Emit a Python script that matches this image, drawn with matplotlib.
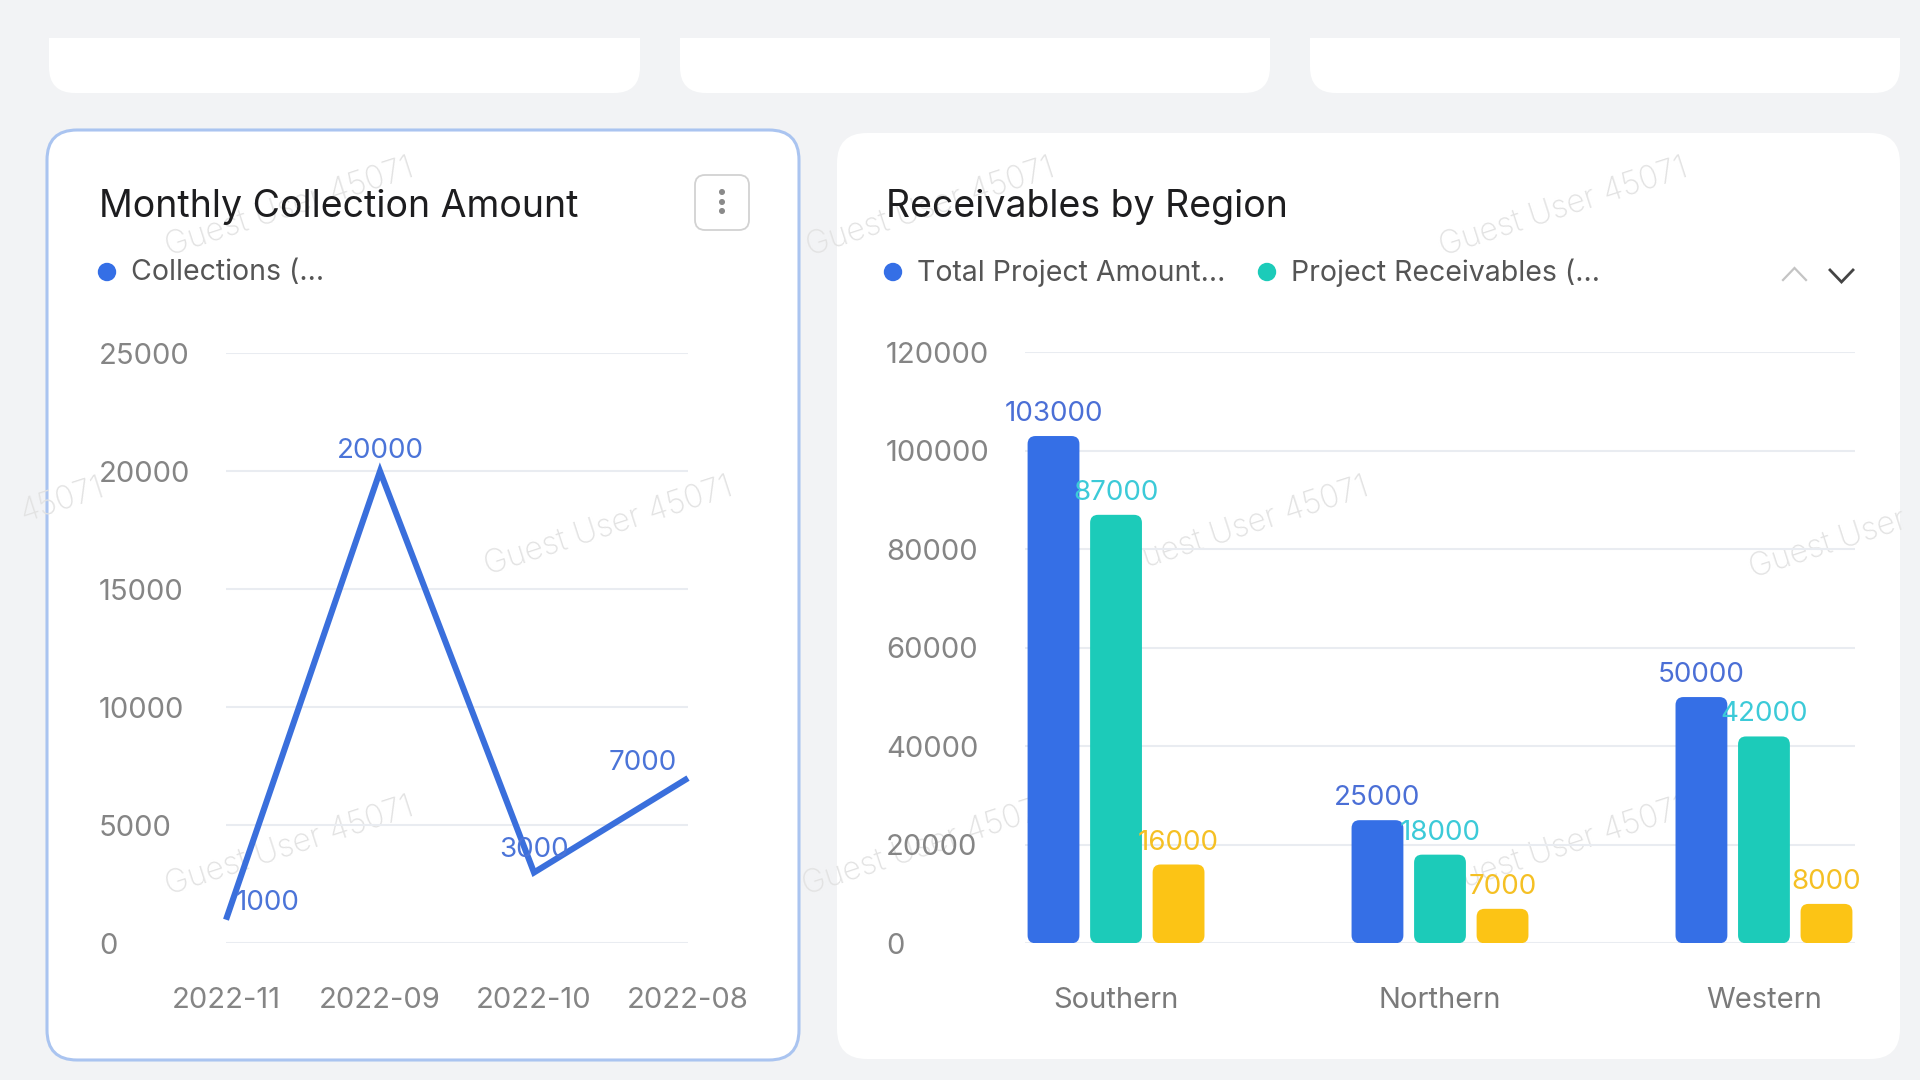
import matplotlib
matplotlib.use("Agg")
import matplotlib.pyplot as plt
from matplotlib.patches import FancyBboxPatch, Rectangle, Circle

plt.rcParams['font.family'] = ['Inter', 'DejaVu Sans']

# ---------------- data ----------------
months = ["2022-11", "2022-09", "2022-10", "2022-08"]
collections = [1000, 20000, 3000, 7000]
line_yticks = [0, 5000, 10000, 15000, 20000, 25000]

regions = ["Southern", "Northern", "Western"]
total_project_amount = [103000, 25000, 50000]
project_receivables = [87000, 18000, 42000]
collected_amount = [16000, 7000, 8000]
bar_yticks = [0, 20000, 40000, 60000, 80000, 100000, 120000]

# label offsets (pixels) for the line labels
line_label_offsets = [(42, 17), (0, 20.5), (0, 22.5), (-45, 15.5)]

W, H = 1920, 1080
BG = "#f2f3f5"
BLUE = "#356fe6"
TEAL = "#1ccbb9"
YELLOW = "#fcc415"
TICK_C = "#858585"

fig = plt.figure(figsize=(W / 100, H / 100), dpi=100, facecolor=BG)

bg = fig.add_axes([0, 0, 1, 1], zorder=0)
bg.set_xlim(0, W)
bg.set_ylim(H, 0)
bg.axis('off')


def card(x0, y0, x1, y1, r=28, ec='none', lw=0, z=1):
    p = FancyBboxPatch((x0, y0), x1 - x0, y1 - y0,
                       boxstyle=f"round,pad=0,rounding_size={r}",
                       fc='white', ec=ec, lw=lw, zorder=z)
    bg.add_patch(p)


# top (cut) cards
for x0, x1 in [(49, 640), (680, 1270), (1310, 1900)]:
    card(x0, -80, x1, 93, r=26)
bg.add_patch(Rectangle((0, -100), W, 138, fc=BG, ec='none', zorder=1.5))

# main cards
card(47, 130, 799, 1060, r=30, ec='#aac4f0', lw=2.2)
card(837, 133, 1900, 1059, r=30)

# watermarks
WM_KW = dict(rotation=18, fontsize=23, color='#e2e2e2', fontweight='light', zorder=2)
wm_pos = [(290, 208), (931, 208), (1564, 208),
          (609, 527), (1245, 527),
          (290, 847), (927, 847), (1564, 847)]
for x, y in wm_pos:
    bg.text(x, y, "Guest User 45071", ha='center', va='center', **WM_KW)
# partial watermarks at the edges
bg.text(104, 487, "45071", ha='right', va='center', rotation_mode='anchor', **WM_KW)
bg.text(1750, 570, "Guest User", ha='left', va='center', rotation_mode='anchor', **WM_KW)

# titles
bg.text(99, 216.7, "Monthly Collection Amount", fontsize=27, color='#1d1d1f',
        va='baseline', ha='left', zorder=5)
bg.text(886, 216.7, "Receivables by Region", fontsize=27, color='#1d1d1f',
        va='baseline', ha='left', zorder=5)

# legends
LEG_Y = 270
bg.add_patch(Circle((107, 272), 8.5, color=BLUE, zorder=5))
bg.text(131, LEG_Y, "Collections (...", va='center_baseline', ha='left', fontsize=20.5,
        color='#555555', zorder=5)
bg.add_patch(Circle((893, 272), 8.5, color=BLUE, zorder=5))
bg.text(917, LEG_Y, "Total Project Amount...", va='center_baseline', ha='left', fontsize=20.5,
        color='#555555', zorder=5)
bg.add_patch(Circle((1267, 272), 8.5, color=TEAL, zorder=5))
bg.text(1291, LEG_Y, "Project Receivables (...", va='center_baseline', ha='left', fontsize=20.5,
        color='#555555', zorder=5)

# legend scroll arrows
bg.plot([1783, 1794.5, 1806], [280, 268, 280], color='#c4c4c4', lw=1.6, zorder=5,
        solid_joinstyle='miter')
bg.plot([1830, 1841.5, 1853], [270, 282, 270], color='#444444', lw=2.0, zorder=5,
        solid_joinstyle='miter')

# kebab button
bg.add_patch(FancyBboxPatch((695, 175), 54, 55, boxstyle="round,pad=0,rounding_size=10",
                            fc='white', ec='#d2d2d2', lw=1.3, zorder=5))
for yy in (192, 202, 211):
    bg.add_patch(Circle((722, yy), 2.3, color='#8a8a8a', zorder=6))

# ---------------- line chart ----------------
y0_px = 943.3
axL = fig.add_axes([226 / W, (H - y0_px) / H, (688 - 226) / W, 590 / H], zorder=3)
axL.set_facecolor('none')
axL.set_xlim(0, len(months) - 1)
axL.set_ylim(0, 25000)
for s in axL.spines.values():
    s.set_visible(False)
axL.set_yticks(line_yticks)
axL.set_yticklabels([str(v) for v in line_yticks])
axL.set_xticks(range(len(months)))
axL.set_xticklabels(months)
axL.yaxis.grid(True, color='#e9ecf1', lw=1.5)
axL.set_axisbelow(True)
axL.tick_params(axis='y', length=0, pad=91.4, labelsize=21, labelcolor=TICK_C)
axL.tick_params(axis='x', length=0, pad=31.5, labelsize=21, labelcolor=TICK_C)
for t in axL.get_yticklabels():
    t.set_horizontalalignment('left')
axL.plot(range(len(months)), collections, color='#3a6fdc', lw=4.4, clip_on=False,
         solid_joinstyle='miter', solid_capstyle='butt', zorder=4)
for i, (v, (dx, dy)) in enumerate(zip(collections, line_label_offsets)):
    axL.annotate(f"{v}", (i, v), xytext=(dx, dy), textcoords='offset pixels',
                 ha='center', va='center', fontsize=20, color='#4b74d8',
                 annotation_clip=False, zorder=5)

# ---------------- bar chart ----------------
axR = fig.add_axes([1025 / W, (H - y0_px) / H, 830 / W, 591 / H], zorder=3)
axR.set_facecolor('none')
axR.set_xlim(-0.281, 2.281)
axR.set_ylim(0, 120000)
for s in axR.spines.values():
    s.set_visible(False)
axR.set_yticks(bar_yticks)
axR.set_yticklabels([str(v) for v in bar_yticks])
axR.set_xticks(range(len(regions)))
axR.set_xticklabels(regions)
axR.yaxis.grid(True, color='#e9ecf1', lw=1.5)
axR.set_axisbelow(True)
axR.tick_params(axis='y', length=0, pad=100, labelsize=21, labelcolor=TICK_C)
axR.tick_params(axis='x', length=0, pad=31.5, labelsize=21, labelcolor='#7a7a7a')
for t in axR.get_yticklabels():
    t.set_horizontalalignment('left')

bw = 0.16
off = 0.193
series = [(total_project_amount, BLUE, '#4b6fd6', -off),
          (project_receivables, TEAL, '#3ccad8', 0.0),
          (collected_amount, YELLOW, '#f5c024', off)]

fig.canvas.draw()
# data units per pixel
inv = axR.transData.inverted()
p0 = inv.transform((0, 0))
p1 = inv.transform((1, 1))
xu = p1[0] - p0[0]
yu = p1[1] - p0[1]
r_px = 8
rsize = r_px * xu
aspect = yu / xu

for vals, col, lcol, o in series:
    xs = [i + o for i in range(len(regions))]
    bars = axR.bar(xs, vals, width=bw, color=col)
    for b in bars:
        x, y = b.get_x(), b.get_y()
        w, h = b.get_width(), b.get_height()
        b.set_visible(False)
        rp = FancyBboxPatch((x, y), w, h,
                            boxstyle=f"round,pad=0,rounding_size={rsize}",
                            mutation_aspect=aspect, fc=col, ec='none', zorder=3)
        axR.add_patch(rp)
    for x, v in zip(xs, vals):
        axR.annotate(f"{v}", (x, v), xytext=(0, 22), textcoords='offset pixels',
                     ha='center', va='center', fontsize=20, color=lcol,
                     annotation_clip=False, zorder=5)

fig.savefig("out.png", dpi=100, facecolor=BG)
